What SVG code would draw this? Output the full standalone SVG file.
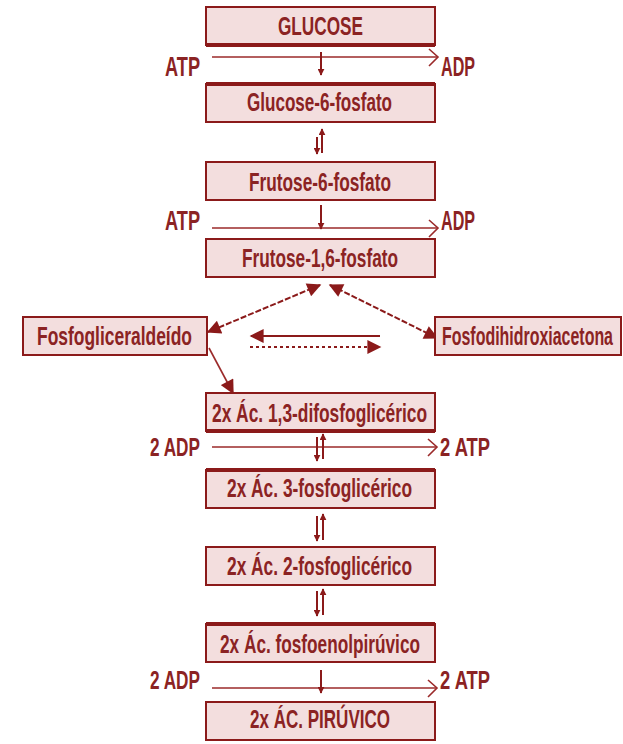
<svg xmlns="http://www.w3.org/2000/svg" width="623" height="744" viewBox="0 0 623 744">
<defs>
<style>
.box{fill:#f3dede;stroke:#8b1a1a;stroke-width:2}
.thick{stroke:#8b1a1a;stroke-width:4}
.t{font-family:"Liberation Sans",Arial,sans-serif;font-size:25px;font-weight:bold;fill:#8b2323}
.s{font-family:"Liberation Sans",Arial,sans-serif;font-size:28px;font-weight:bold;fill:#8b2323}
.ln{stroke:#9b2a2a;stroke-width:1.6;fill:none}
.ar{stroke:#8b1a1a;stroke-width:2;fill:none}
.dash{stroke:#8b1a1a;stroke-width:2;fill:none;stroke-dasharray:6 2}
.dot{stroke:#8b1a1a;stroke-width:2;fill:none;stroke-dasharray:3 3}
</style>
<marker id="sm" viewBox="0 0 10 10" refX="9" refY="5" markerWidth="7" markerHeight="7" markerUnits="userSpaceOnUse" orient="auto"><path d="M0,0 L10,5 L0,10 Z" fill="#8b1a1a"/></marker>
<marker id="big" viewBox="0 0 10 10" refX="9" refY="5" markerWidth="17" markerHeight="14" markerUnits="userSpaceOnUse" orient="auto-start-reverse"><path d="M0,0 L10,5 L0,10 Z" fill="#8b1a1a"/></marker>
</defs>
<rect width="623" height="744" fill="#ffffff"/>

<g id="connectors">
<line class="ln" x1="212" y1="57" x2="437" y2="57"/>
<path class="ln" d="M429,49 L438,57 L429,66"/>
<line class="ar" x1="321" y1="52" x2="321" y2="75" marker-end="url(#sm)"/>
<line class="ar" x1="317" y1="137" x2="317" y2="154" marker-end="url(#sm)"/>
<line class="ar" x1="322" y1="153" x2="322" y2="129" marker-end="url(#sm)"/>
<line class="ln" x1="212" y1="228" x2="437" y2="228"/>
<path class="ln" d="M429,220 L438,228 L429,237"/>
<line class="ar" x1="321" y1="205" x2="321" y2="229" marker-end="url(#sm)"/>
<line class="dash" x1="320" y1="285" x2="208" y2="332" marker-start="url(#big)" marker-end="url(#big)"/>
<line class="dash" x1="330" y1="285" x2="437" y2="338" marker-start="url(#big)" marker-end="url(#big)"/>
<line class="ar" x1="380" y1="336" x2="251" y2="336" marker-end="url(#big)"/>
<line class="dot" x1="250" y1="347" x2="380" y2="347" marker-end="url(#big)"/>
<line class="ln" x1="209" y1="348" x2="233" y2="393" marker-end="url(#big)"/>
<line class="ln" x1="212" y1="447" x2="436" y2="447"/>
<path class="ln" d="M428,439 L437,447 L428,456"/>
<line class="ar" x1="317" y1="437" x2="317" y2="461" marker-end="url(#sm)"/>
<line class="ar" x1="323" y1="459" x2="323" y2="434" marker-end="url(#sm)"/>
<line class="ar" x1="317" y1="516" x2="317" y2="541" marker-end="url(#sm)"/>
<line class="ar" x1="323" y1="540" x2="323" y2="514" marker-end="url(#sm)"/>
<line class="ar" x1="317" y1="591" x2="317" y2="616" marker-end="url(#sm)"/>
<line class="ar" x1="323" y1="615" x2="323" y2="589" marker-end="url(#sm)"/>
<line class="ln" x1="212" y1="688" x2="436" y2="688"/>
<path class="ln" d="M428,680 L437,688 L428,697"/>
<line class="ar" x1="321" y1="670" x2="321" y2="693" marker-end="url(#sm)"/>
</g>

<g id="labels">
<text class="s" x="165" y="76" textLength="35" lengthAdjust="spacingAndGlyphs">ATP</text>
<text class="s" x="441" y="76" textLength="34" lengthAdjust="spacingAndGlyphs">ADP</text>
<text class="s" x="165" y="230" textLength="35" lengthAdjust="spacingAndGlyphs">ATP</text>
<text class="s" x="441" y="230" textLength="34" lengthAdjust="spacingAndGlyphs">ADP</text>
<text class="t" x="150" y="456" textLength="50" lengthAdjust="spacingAndGlyphs">2 ADP</text>
<text class="t" x="440" y="456" textLength="50" lengthAdjust="spacingAndGlyphs">2 ATP</text>
<text class="t" x="150" y="689" textLength="50" lengthAdjust="spacingAndGlyphs">2 ADP</text>
<text class="t" x="440" y="689" textLength="50" lengthAdjust="spacingAndGlyphs">2 ATP</text>
</g>

<g id="glucose">
<rect class="box" x="206" y="7" width="229" height="38"/>
<line class="thick" x1="206" y1="45" x2="435" y2="45"/>
<text class="t" x="278" y="35" textLength="85" lengthAdjust="spacingAndGlyphs">GLUCOSE</text>
</g>
<g id="glucose6p">
<rect class="box" x="206" y="84" width="229" height="38"/>
<line class="thick" x1="206" y1="84" x2="435" y2="84"/>
<text class="t" x="247" y="111" textLength="145" lengthAdjust="spacingAndGlyphs">Glucose-6-fosfato</text>
</g>
<g id="frutose6p">
<rect class="box" x="206" y="162" width="229" height="38"/>
<text class="t" x="249" y="191" textLength="142" lengthAdjust="spacingAndGlyphs">Frutose-6-fosfato</text>
</g>
<g id="frutose16p">
<rect class="box" x="206" y="239" width="229" height="38"/>
<text class="t" x="242" y="267" textLength="156" lengthAdjust="spacingAndGlyphs">Frutose-1,6-fosfato</text>
</g>
<g id="fosfogliceraldeido">
<rect class="box" x="23" y="317" width="184" height="38"/>
<text class="t" x="37" y="345" textLength="155" lengthAdjust="spacingAndGlyphs">Fosfogliceraldeído</text>
</g>
<g id="fosfodihidroxiacetona">
<rect class="box" x="435" y="317" width="186" height="38"/>
<text class="t" x="442" y="345" textLength="171" lengthAdjust="spacingAndGlyphs">Fosfodihidroxiacetona</text>
</g>
<g id="difosfoglicerico">
<rect class="box" x="206" y="393" width="229" height="38"/>
<line class="thick" x1="206" y1="431" x2="435" y2="431"/>
<text class="t" x="212" y="422" textLength="215" lengthAdjust="spacingAndGlyphs">2x Ác. 1,3-difosfoglicérico</text>
</g>
<g id="fosfoglicerico3">
<rect class="box" x="206" y="470" width="229" height="38"/>
<line class="thick" x1="206" y1="470" x2="435" y2="470"/>
<text class="t" x="227" y="497" textLength="185" lengthAdjust="spacingAndGlyphs">2x Ác. 3-fosfoglicérico</text>
</g>
<g id="fosfoglicerico2">
<rect class="box" x="206" y="547" width="229" height="38"/>
<text class="t" x="227" y="575" textLength="185" lengthAdjust="spacingAndGlyphs">2x Ác. 2-fosfoglicérico</text>
</g>
<g id="fosfoenolpiruvico">
<rect class="box" x="206" y="624" width="229" height="38"/>
<line class="thick" x1="206" y1="624" x2="435" y2="624"/>
<text class="t" x="220" y="653" textLength="200" lengthAdjust="spacingAndGlyphs">2x Ác. fosfoenolpirúvico</text>
</g>
<g id="piruvico">
<rect class="box" x="206" y="702" width="229" height="38"/>
<text class="t" x="250" y="728" textLength="140" lengthAdjust="spacingAndGlyphs">2x ÁC. PIRÚVICO</text>
</g>
</svg>
